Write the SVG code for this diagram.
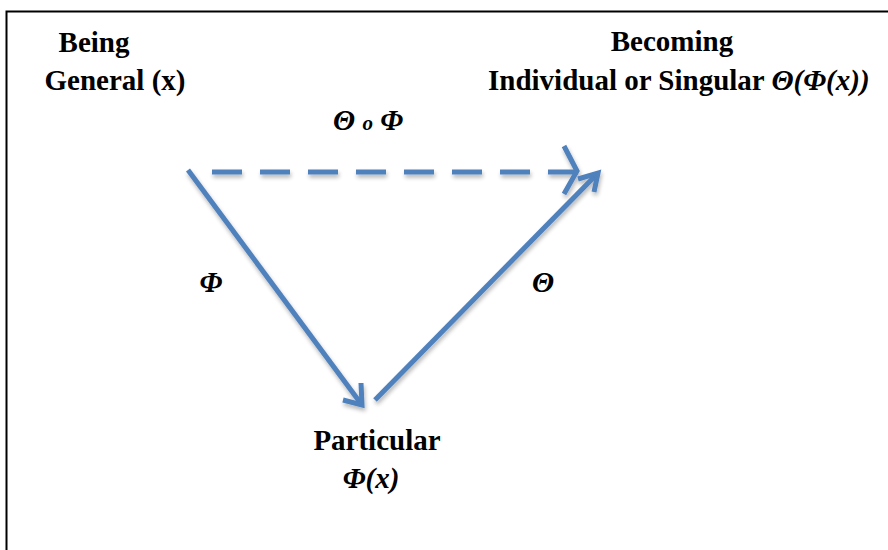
<svg xmlns="http://www.w3.org/2000/svg" width="888" height="550" viewBox="0 0 888 550">
<style>
.t{font-family:"Liberation Serif","Times New Roman",serif;font-weight:bold;font-size:29px;fill:#000}
.i{font-style:italic}
.c{fill:none;stroke:#4F81BD;stroke-width:5;stroke-linecap:butt}
</style>
<defs>
<filter id="sh" x="-10%" y="-10%" width="120%" height="130%">
<feGaussianBlur in="SourceAlpha" stdDeviation="2"/>
<feOffset dx="1" dy="3"/>
<feComponentTransfer><feFuncA type="linear" slope="0.3"/></feComponentTransfer>
<feMerge><feMergeNode/><feMergeNode in="SourceGraphic"/></feMerge>
</filter>
</defs>
<rect x="0" y="0" width="888" height="550" fill="#fff"/>
<path d="M6.5 550 V11.5 H888" fill="none" stroke="#000" stroke-width="2"/>
<g id="being"><text class="t" x="94" y="52" text-anchor="middle">Being</text><text class="t" x="115" y="90" text-anchor="middle">General (x)</text></g>
<g id="becoming"><text class="t" x="672" y="51" text-anchor="middle">Becoming</text><text class="t" x="488" y="90">Individual or Singular <tspan class="i">Θ(Φ(x))</tspan></text></g>
<g id="particular"><text class="t" x="377" y="450" text-anchor="middle">Particular</text><text class="t i" x="371" y="488" text-anchor="middle">Φ(x)</text></g>
<g id="connectors" filter="url(#sh)">
<path class="c" d="M212 172 H578" stroke-dasharray="30 18"/>
<path class="c" d="M564 146 L577 171 L564 194"/>
<path class="c" d="M188 170 L362 405"/>
<path class="c" d="M343 400 L362 405 L361 383"/>
<path class="c" d="M375 400 L598 173"/>
<path class="c" d="M578 179 L598 173 L594 192"/>
</g>
<g id="labels">
<text class="t i" x="368" y="130" text-anchor="middle">Θ <tspan font-size="21">o</tspan> Φ</text>
<text class="t i" x="211" y="292" text-anchor="middle">Φ</text>
<text class="t i" x="543" y="292" text-anchor="middle">Θ</text>
</g>
</svg>
